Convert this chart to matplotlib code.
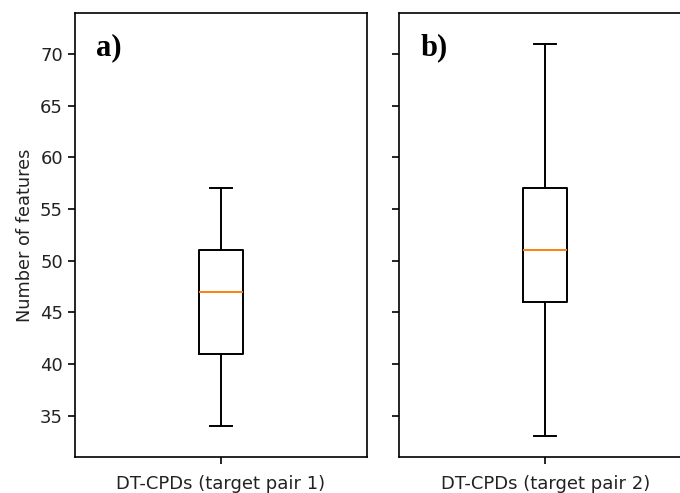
import matplotlib.pyplot as plt

# box statistics
labels = ["DT-CPDs (target pair 1)", "DT-CPDs (target pair 2)"]
whis_lo = [34, 33]
q1 = [41, 46]
medians = [47, 51]
q3 = [51, 57]
whis_hi = [57, 71]
panel_tags = ["a)", "b)"]
y_ticks = [35, 40, 45, 50, 55, 60, 65, 70]

fig = plt.figure(figsize=(6.8, 4.93), dpi=100)
ax1 = fig.add_axes([0.110, 0.073, 0.430, 0.901])
ax2 = fig.add_axes([0.587, 0.073, 0.430, 0.901], sharey=ax1)

lw = 1.4
for i, ax in enumerate([ax1, ax2]):
    stats = [dict(whislo=whis_lo[i], q1=q1[i], med=medians[i], q3=q3[i],
                  whishi=whis_hi[i], fliers=[], label=labels[i])]
    ax.bxp(stats, positions=[1], widths=0.15, showfliers=False,
           boxprops=dict(linewidth=lw, color='black'),
           whiskerprops=dict(linewidth=lw, color='black'),
           capprops=dict(linewidth=lw, color='black'),
           medianprops=dict(linewidth=lw, color='#ff7f0e'))
    ax.set_xlim(0.5, 1.5)
    ax.tick_params(labelsize=13, length=5, width=1.2, labelcolor='#222222')
    ax.tick_params(axis='x', pad=8)
    for s in ax.spines.values():
        s.set_linewidth(1.2)
    ax.text(0.072, 0.955, panel_tags[i], transform=ax.transAxes, ha='left', va='top',
            fontsize=22, fontweight='bold', family='Liberation Serif')

ax1.set_ylim(31, 74)
ax1.set_yticks(y_ticks)
ax1.set_ylabel("Number of features", fontsize=12.8, color='#222222')
plt.setp(ax2.get_yticklabels(), visible=False)

fig.savefig("out.png", dpi=100)
